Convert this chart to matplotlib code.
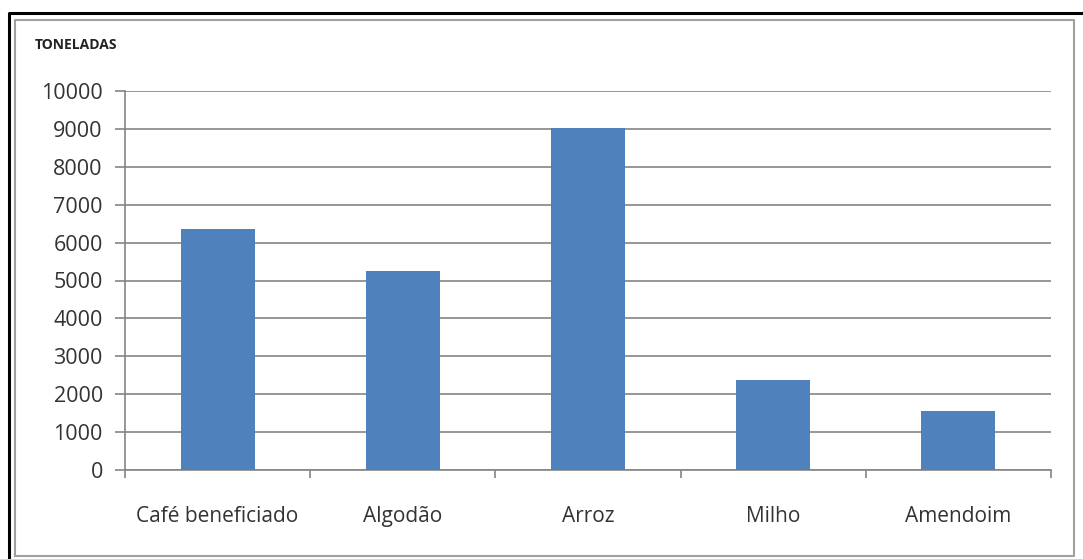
import matplotlib.pyplot as plt
from matplotlib.lines import Line2D
import numpy as np

culturas = ["Café beneficiado", "Algodão", "Arroz", "Milho", "Amendoim"]
toneladas = [6350, 5250, 9020, 2380, 1550]
y_ticks = list(range(0, 10001, 1000))

BAR_COLOR = "#4F81BD"
GRID_COLOR = "#858585"
TEXT_COLOR = "#333333"

plt.rcParams["font.family"] = ["Open Sans", "DejaVu Sans"]

W, H = 1083, 559
fig = plt.figure(figsize=(W / 100, H / 100), dpi=100)
fig.patch.set_facecolor("white")

# plot area in pixel units -> figure fractions
left, right, top, bottom = 125, 1051, 91, 470
ax = fig.add_axes([left / W, 1 - bottom / H, (right - left) / W, (bottom - top) / H])

x = np.arange(len(culturas))
ax.bar(x, toneladas, width=0.4, color=BAR_COLOR, zorder=3)

ax.set_xlim(-0.5, len(culturas) - 0.5)
ax.set_ylim(0, 10000)
ax.set_yticks(y_ticks)
ax.set_yticklabels([str(v) for v in y_ticks])
ax.yaxis.grid(True, color=GRID_COLOR, linewidth=1.2, zorder=0)

# category labels centred under bars, ticks on the category boundaries
ax.set_xticks(np.arange(-0.5, len(culturas)), minor=False)
ax.set_xticklabels([])
ax.set_xticks(x, minor=True)
ax.set_xticklabels(culturas, minor=True)
ax.tick_params(axis="x", which="minor", length=0, pad=26,
               labelsize=15, labelcolor=TEXT_COLOR)
ax.tick_params(axis="x", which="major", length=6, width=1.2, color=GRID_COLOR, direction="out")
ax.tick_params(axis="y", length=7, width=1.2, color=GRID_COLOR, direction="out",
               labelsize=15.5, labelcolor=TEXT_COLOR, pad=9)

for side in ("top", "right"):
    ax.spines[side].set_visible(False)
for side in ("left", "bottom"):
    ax.spines[side].set_color(GRID_COLOR)
    ax.spines[side].set_linewidth(1.2)

fig.text(35 / W, 1 - 45 / H, "TONELADAS", fontsize=10, fontweight="bold",
         color="#222222", va="center", ha="left")

# double frame around the chart
def px_line(xs, ys, **kw):
    fig.add_artist(Line2D([v / W for v in xs], [1 - v / H for v in ys],
                          transform=fig.transFigure, **kw))

px_line([8.5, 8.5, W + 5], [H + 5, 12.5, 12.5], color="black", linewidth=2.2)
px_line([15, 15, 1074, 1074, 15], [556, 20, 20, 556, 556], color="#A0A0A0", linewidth=1.5)

fig.savefig("out.png", dpi=100, facecolor="white")
